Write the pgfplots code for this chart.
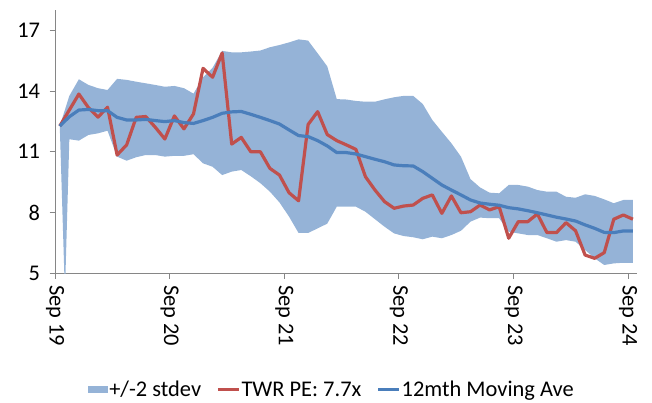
\documentclass[border=0pt]{standalone}
\usepackage{fontspec}
\setmainfont{Carlito}
\usepackage{pgfplots}
\usepackage{pgfplotstable}
\pgfplotsset{compat=1.18}
\usepgfplotslibrary{fillbetween}
\definecolor{bandc}{RGB}{149,179,215}
\definecolor{redc}{RGB}{192,80,77}
\definecolor{bluec}{RGB}{74,126,187}
\definecolor{axisgray}{RGB}{134,134,134}

\pgfplotstableread{
x pe ma up
0.5 12.27 12.27 12.27
1.5 13.06 12.73 13.76
2.5 13.85 13.06 14.58
3.5 13.18 13.09 14.30
4.5 12.71 13.03 14.14
5.5 13.20 13.03 14.05
6.5 10.84 12.70 14.60
7.5 11.34 12.57 14.55
8.5 12.70 12.57 14.46
9.5 12.74 12.60 14.38
10.5 12.21 12.54 14.30
11.5 11.63 12.49 14.21
12.5 12.77 12.54 14.25
13.5 12.13 12.44 14.14
14.5 12.87 12.40 13.87
15.5 15.12 12.54 14.68
16.5 14.68 12.70 15.15
17.5 15.88 12.90 15.98
18.5 11.38 12.97 15.91
19.5 11.71 12.99 15.91
20.5 11.00 12.85 15.95
21.5 11.00 12.70 16.00
22.5 10.18 12.54 16.16
23.5 9.85 12.37 16.27
24.5 8.98 12.08 16.40
25.5 8.58 11.80 16.55
26.5 12.35 11.75 16.49
27.5 12.98 11.55 15.86
28.5 11.85 11.29 15.22
29.5 11.55 10.96 13.60
30.5 11.34 10.96 13.58
31.5 11.12 10.89 13.51
32.5 9.77 10.76 13.47
33.5 9.11 10.63 13.47
34.5 8.54 10.51 13.59
35.5 8.21 10.35 13.69
36.5 8.32 10.31 13.76
37.5 8.37 10.30 13.76
38.5 8.70 10.02 13.36
39.5 8.87 9.69 12.57
40.5 7.96 9.36 11.99
41.5 8.82 9.11 11.42
42.5 7.99 8.87 10.76
43.5 8.04 8.62 9.65
44.5 8.37 8.47 9.24
45.5 8.13 8.41 8.98
46.5 8.29 8.36 8.95
47.5 6.73 8.24 9.36
48.5 7.55 8.18 9.36
49.5 7.55 8.09 9.28
50.5 7.93 7.99 9.11
51.5 7.01 7.88 9.03
52.5 7.01 7.77 9.03
53.5 7.50 7.68 8.78
54.5 7.10 7.58 8.73
55.5 5.90 7.39 8.90
56.5 5.74 7.22 8.82
57.5 6.02 7.02 8.65
58.5 7.67 7.01 8.46
59.5 7.88 7.09 8.62
60.5 7.67 7.09 8.62
}\maintab

\pgfplotstableread{
x lo
0.5 12.27
1.04 4.00
1.5 11.62
2.5 11.55
3.5 11.83
4.5 11.91
5.5 12.04
6.5 10.76
7.5 10.56
8.5 10.73
9.5 10.84
10.5 10.84
11.5 10.76
12.5 10.80
13.5 10.80
14.5 10.88
15.5 10.43
16.5 10.26
17.5 9.85
18.5 10.02
19.5 10.10
20.5 9.79
21.5 9.45
22.5 9.03
23.5 8.50
24.5 7.80
25.5 6.99
26.5 6.99
27.5 7.22
28.5 7.45
29.5 8.29
30.5 8.29
31.5 8.29
32.5 8.04
33.5 7.67
34.5 7.30
35.5 6.97
36.5 6.84
37.5 6.78
38.5 6.68
39.5 6.81
40.5 6.73
41.5 6.89
42.5 7.10
43.5 7.55
44.5 7.75
45.5 7.72
46.5 7.72
47.5 7.05
48.5 6.97
49.5 6.89
50.5 6.89
51.5 6.73
52.5 6.56
53.5 6.64
54.5 6.56
55.5 6.15
56.5 5.74
57.5 5.41
58.5 5.49
59.5 5.52
60.5 5.52
}\lowtab

\begin{document}
\begin{tikzpicture}
\begin{axis}[
  scale only axis,
  width=581.7bp, height=263.3bp,
  at={(0,0)}, anchor=south west,
  xmin=0, xmax=60.9, ymin=5, ymax=18,
  axis x line*=bottom, axis y line*=left,
  axis line style={draw=axisgray, line width=0.8bp},
  tick style={draw=axisgray, line width=0.8bp},
  tick align=outside, major tick length=5.5bp,
  xtick={0,12,24,36,48,60},
  xticklabels={Sep 19,Sep 20,Sep 21,Sep 22,Sep 23,Sep 24},
  ytick={5,8,11,14,17},
  /pgf/number format/assume math mode=true,
  tick label style={font=\fontsize{22.5}{25}\selectfont, text=black},
  xticklabel style={rotate=-90, anchor=west},
  xticklabel shift=3bp,
  yticklabel shift=6bp,
  legend columns=3,
  legend style={at={(0.4753,-0.443)}, anchor=center, draw=none,
    font=\fontsize{22.5}{25}\selectfont,
    nodes={inner sep=1.2bp},
    /tikz/every even column/.append style={column sep=14bp}},
]
\addplot[draw=none, forget plot, name path=U] table[x=x, y=up] {\maintab};
\addplot[draw=none, forget plot, name path=L] table[x=x, y=lo] {\lowtab};
\addplot[fill=bandc, draw=none,
  legend image code/.code={\fill[bandc] (0bp,-3.5bp) rectangle (20bp,3.5bp);}]
  fill between[of=U and L];
\addlegendentry{+/-2 stdev}
\addplot[redc, line width=3.2bp, line join=round,
  legend image code/.code={\draw[redc, line width=3bp] (0bp,0bp) -- (21bp,0bp);}]
  table[x=x, y=pe] {\maintab};
\addlegendentry{TWR PE: 7.7x}
\addplot[bluec, line width=3.2bp, line join=round,
  legend image code/.code={\draw[bluec, line width=3bp] (0bp,0bp) -- (21bp,0bp);}]
  table[x=x, y=ma] {\maintab};
\addlegendentry{12mth Moving Ave}
\end{axis}
\path (-55bp,-129.7bp) rectangle (597bp,273.3bp);
\end{tikzpicture}
\end{document}
